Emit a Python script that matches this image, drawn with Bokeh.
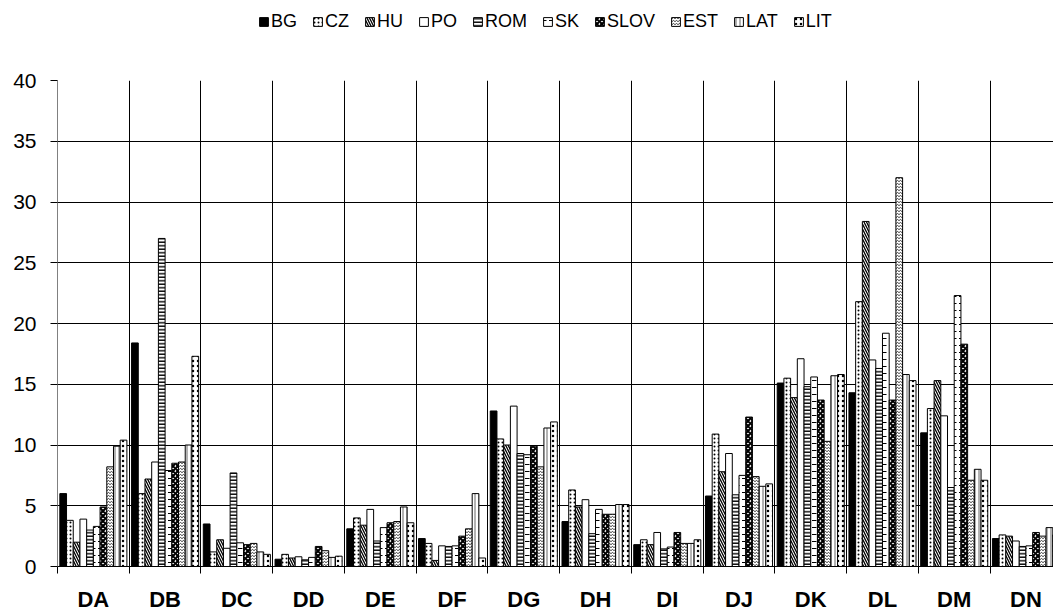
import numpy as np
from bokeh.plotting import figure
from bokeh.layouts import column
from bokeh.models import ColumnDataSource, FixedTicker, Legend, LegendItem, Range1d
from bokeh.transform import dodge
from bokeh.embed import file_html
from bokeh.resources import INLINE

categories = ["DA", "DB", "DC", "DD", "DE", "DF", "DG", "DH", "DI", "DJ", "DK", "DL", "DM", "DN"]
series_names = ["BG", "CZ", "HU", "PO", "ROM", "SK", "SLOV", "EST", "LAT", "LIT"]

BG   = [6.0, 18.4, 3.5, 0.6, 3.1, 2.3, 12.8, 3.7, 1.8, 5.8, 15.1, 14.3, 11.0, 2.3]
CZ   = [3.8, 6.0, 1.2, 1.0, 4.0, 1.9, 10.5, 6.3, 2.2, 10.9, 15.5, 21.8, 13.0, 2.6]
HU   = [2.0, 7.2, 2.2, 0.7, 3.4, 0.5, 10.0, 4.9, 1.8, 7.8, 13.9, 28.4, 15.3, 2.5]
PO   = [3.9, 8.6, 1.5, 0.8, 4.7, 1.7, 13.2, 5.5, 2.8, 9.3, 17.1, 17.0, 12.4, 2.1]
ROM  = [3.0, 27.0, 7.7, 0.55, 2.1, 1.65, 9.3, 2.7, 1.45, 5.9, 14.8, 16.3, 6.5, 1.65]
SK   = [3.3, 7.9, 1.95, 0.75, 3.2, 1.7, 9.2, 4.7, 1.6, 7.5, 15.6, 19.2, 22.3, 1.7]
SLOV = [4.9, 8.5, 1.8, 1.65, 3.6, 2.5, 9.9, 4.3, 2.8, 12.3, 13.7, 13.7, 18.3, 2.8]
EST  = [8.2, 8.6, 1.9, 1.3, 3.7, 3.1, 8.2, 4.3, 1.9, 7.4, 10.3, 32.0, 7.1, 2.5]
LAT  = [9.9, 10.0, 1.2, 0.75, 4.9, 6.0, 11.4, 5.1, 1.9, 6.6, 15.7, 15.8, 8.0, 3.2]
LIT  = [10.4, 17.3, 1.0, 0.85, 3.6, 0.7, 11.9, 5.1, 2.2, 6.8, 15.8, 15.3, 7.1, 2.6]

y_ticks = [0, 5, 10, 15, 20, 25, 30, 35, 40]

series_values = [BG, CZ, HU, PO, ROM, SK, SLOV, EST, LAT, LIT]

# styles: (fill_color, hatch_pattern, hatch_scale, hatch_weight)
styles = [
    ("black", None, 1, 1),
    ("white", "dot", 4, 1),
    ("white", "left_diagonal_line", 5, 1.3),
    ("white", None, 1, 1),
    ("white", "horizontal_line", 3.5, 1.4),
    ("white", "horizontal_dash", 7, 1),
    ("white", "diagonal_cross", 5, 2.2),
    ("white", "horizontal_wave", 3, 0.8),
    ("white", "vertical_line", 4, 0.6),
    ("white", "dot", 5, 3),
]

n_cat = len(categories)
centers = [i + 0.5 for i in range(n_cat)]
boundaries = list(range(n_cat + 1))

data = {"x": centers}
for name, vals in zip(series_names, series_values):
    data[name] = vals
source = ColumnDataSource(data)

FONT = "Liberation Sans"


def style_kw(j):
    fill, hatch, hscale, hweight = styles[j]
    kw = dict(fill_color=fill, line_color="black", line_width=1)
    if hatch:
        kw.update(hatch_pattern=hatch, hatch_color="black", hatch_scale=hscale, hatch_weight=hweight)
    return kw


# ---- legend strip (top) ----
lg = figure(width=1053, height=68, output_backend="svg", toolbar_location=None,
            x_axis_type=None, y_axis_type=None,
            x_range=Range1d(0, 1), y_range=Range1d(0, 1),
            min_border_left=0, min_border_right=0, min_border_top=0, min_border_bottom=0)
lg.outline_line_color = None
lg_items = []
for j, name in enumerate(series_names):
    # legend-only renderer: its single bar lies outside the strip's visible range
    r = lg.vbar(x=[10], top=[20], bottom=[15], width=0.1, **style_kw(j))
    lg_items.append(LegendItem(label=name, renderers=[r]))
legend = Legend(items=lg_items, orientation="horizontal", location=(201, 36),
                label_text_font=FONT, label_text_font_size="18px", label_text_color="black",
                glyph_width=11, glyph_height=11, label_standoff=2, spacing=15,
                padding=2, margin=0, border_line_color=None, background_fill_alpha=0)
lg.add_layout(legend, "center")

# ---- main chart ----
p = figure(width=1053, height=546, output_backend="svg", toolbar_location=None,
           x_range=Range1d(0, 13.884), y_range=Range1d(0, 40),
           min_border_left=57, min_border_top=12, min_border_right=0, min_border_bottom=0)
p.outline_line_color = None
p.background_fill_color = "white"

bar_w = 0.0935
for j, name in enumerate(series_names):
    p.vbar(x=dodge("x", (j - 4.5) * bar_w, range=p.x_range), top=name, width=bar_w,
           source=source, **style_kw(j))

# x axis
xa = p.xaxis[0]
xa.ticker = FixedTicker(ticks=centers, minor_ticks=boundaries)
xa.major_label_overrides = {c: lab for c, lab in zip(centers, categories)}
xa.major_tick_out = 0
xa.major_tick_in = 0
xa.minor_tick_out = 7
xa.minor_tick_in = 0
xa.minor_tick_line_color = "black"
xa.axis_line_color = "black"
xa.major_label_text_font = FONT
xa.major_label_text_font_size = "22px"
xa.major_label_text_font_style = "bold"
xa.major_label_text_color = "black"
xa.major_label_standoff = 13

# y axis
ya = p.yaxis[0]
ya.ticker = FixedTicker(ticks=y_ticks)
ya.major_tick_out = 7
ya.major_tick_in = 0
ya.minor_tick_out = 0
ya.minor_tick_in = 0
ya.axis_line_color = "#808080"
ya.major_tick_line_color = "black"
ya.major_label_text_font = FONT
ya.major_label_text_font_size = "21px"
ya.major_label_text_color = "black"
ya.major_label_standoff = 14

p.xgrid.ticker = FixedTicker(ticks=boundaries)
p.xgrid.grid_line_color = "black"
p.xgrid.grid_line_alpha = 1
p.ygrid.ticker = FixedTicker(ticks=y_ticks)
p.ygrid.grid_line_color = "black"
p.ygrid.grid_line_alpha = 1

layout = column(lg, p, spacing=0)
open("out.html", "w").write(file_html(layout, INLINE))
